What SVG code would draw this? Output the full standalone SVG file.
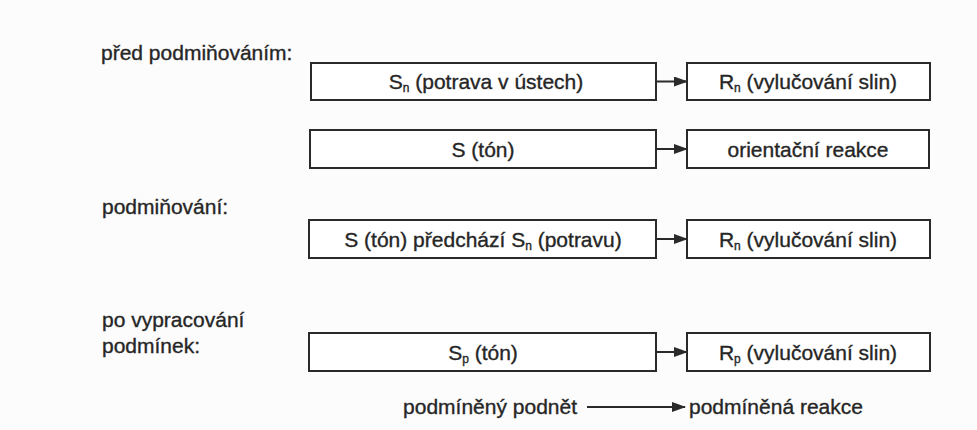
<svg xmlns="http://www.w3.org/2000/svg" width="977" height="430" viewBox="0 0 977 430">
<style>
  .bg { fill: #fcfcfc; }
  .box { fill: #ffffff; stroke: #2a2a2a; stroke-width: 2; }
  .t { font-family: "Liberation Sans", Arial, Helvetica, sans-serif; font-size: 21px; fill: #262626; stroke: #262626; stroke-width: 0.35; }
  .c { text-anchor: middle; }
  .sub { font-size: 12px; }
  .conn { stroke: #2a2a2a; stroke-width: 2; fill: none; }
</style>
<defs>
  <marker id="arr" viewBox="0 0 14 10" refX="13" refY="5" markerWidth="14" markerHeight="10" markerUnits="userSpaceOnUse" orient="auto">
    <path d="M0,0 L14,5 L0,10 Z" fill="#2a2a2a"/>
  </marker>
</defs>
<rect class="bg" x="0" y="0" width="977" height="430"/>

<g id="labels">
  <text class="t" x="101" y="60">před podmiňováním:</text>
  <text class="t" x="102" y="214">podmiňování:</text>
  <text class="t" x="102" y="327">po vypracování</text>
  <text class="t" x="102" y="353">podmínek:</text>
</g>

<g id="s1">
  <rect class="box" x="311" y="63" width="345" height="37"/>
  <text class="t c" x="486" y="89">S<tspan class="sub" dy="3">n</tspan><tspan dy="-3"> (potrava v ústech)</tspan></text>
</g>
<g id="r1">
  <rect class="box" x="687" y="63" width="243" height="37"/>
  <text class="t c" x="808" y="89">R<tspan class="sub" dy="3">n</tspan><tspan dy="-3"> (vylučování slin)</tspan></text>
</g>

<g id="s2">
  <rect class="box" x="310" y="130" width="346" height="38"/>
  <text class="t c" x="483" y="156.5">S (tón)</text>
</g>
<g id="r2">
  <rect class="box" x="687" y="130" width="242" height="38"/>
  <text class="t c" x="808" y="156.5">orientační reakce</text>
</g>

<g id="s3">
  <rect class="box" x="309" y="220" width="347" height="38"/>
  <text class="t c" x="483" y="246.5">S (tón) předchází S<tspan class="sub" dy="3">n</tspan><tspan dy="-3"> (potravu)</tspan></text>
</g>
<g id="r3">
  <rect class="box" x="687" y="220" width="243" height="38"/>
  <text class="t c" x="808" y="246.5">R<tspan class="sub" dy="3">n</tspan><tspan dy="-3"> (vylučování slin)</tspan></text>
</g>

<g id="s4">
  <rect class="box" x="309" y="333" width="347" height="38"/>
  <text class="t c" x="483" y="359.5">S<tspan class="sub" dy="3">p</tspan><tspan dy="-3"> (tón)</tspan></text>
</g>
<g id="r4">
  <rect class="box" x="687" y="333" width="243" height="38"/>
  <text class="t c" x="808" y="359.5">R<tspan class="sub" dy="3">p</tspan><tspan dy="-3"> (vylučování slin)</tspan></text>
</g>

<g id="legend">
  <text class="t" x="577" y="414" text-anchor="end">podmíněný podnět</text>
  <text class="t" x="689" y="414">podmíněná reakce</text>
</g>

<g id="connectors">
  <line class="conn" x1="657" y1="81.5" x2="687" y2="81.5" marker-end="url(#arr)"/>
  <line class="conn" x1="657" y1="149" x2="687" y2="149" marker-end="url(#arr)"/>
  <line class="conn" x1="657" y1="239" x2="687" y2="239" marker-end="url(#arr)"/>
  <line class="conn" x1="657" y1="352" x2="687" y2="352" marker-end="url(#arr)"/>
  <line class="conn" x1="587" y1="407" x2="685" y2="407" marker-end="url(#arr)"/>
</g>
</svg>
